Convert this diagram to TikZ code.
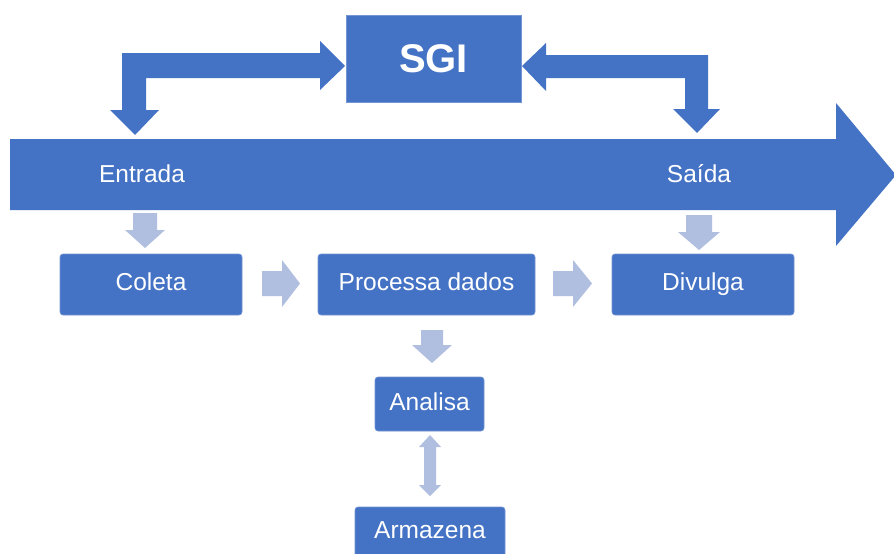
\documentclass[tikz,border=0pt]{standalone}
\usepackage{fontspec}
\setmainfont{Liberation Sans}
\definecolor{mainblue}{HTML}{4472C4}
\definecolor{lightblue}{HTML}{B0BEE0}
\begin{document}
\begin{tikzpicture}[x=1pt,y=-1pt,
  box/.style={fill=mainblue, draw=mainblue!75!white, line width=0.6pt, rounded corners=3pt,
    text=white, font=\fontsize{24.5}{28}\selectfont, inner sep=0pt, text height=17.5pt, text depth=5pt},
  sgibox/.style={fill=mainblue, draw=mainblue!75!white, line width=0.6pt,
    text=white, font=\fontsize{40}{44}\selectfont\bfseries, inner sep=0pt},
  bigarrow/.style={fill=mainblue},
  lightarrow/.style={fill=lightblue},
  bandlabel/.style={text=white, font=\fontsize{24.5}{28}\selectfont, inner sep=0pt, text height=17.5pt, text depth=5pt}]
\clip (0,0) rectangle (894,554);
\fill[white] (0,0) rectangle (894,554);

% big band arrow
\fill[bigarrow] (10,139) -- (836,139) -- (836,103) -- (896,175) -- (836,246) -- (836,210) -- (10,210) -- cycle;
\node[bandlabel] (entrada) at (142,176) {Entrada};
\node[bandlabel] (saida) at (699,176) {Saída};

% SGI box
\node[sgibox, minimum width=175, minimum height=87] (sgi) at (433.5,58.5) {SGI};

% bent double arrows to SGI
\fill[bigarrow] (135,135) -- (159,110) -- (146,110) -- (146,78) -- (320,78) -- (320,90) -- (345,66)
  -- (320,41) -- (320,53) -- (122,53) -- (122,110) -- (110,110) -- cycle;
\fill[bigarrow] (697,133) -- (673,109) -- (685,109) -- (685,78) -- (546,78) -- (546,91) -- (522,66)
  -- (546,43) -- (546,55) -- (708,55) -- (708,109) -- (720,109) -- cycle;

% process boxes
\node[box, minimum width=182, minimum height=61] (coleta) at (151,284.5) {Coleta};
\node[box, minimum width=217, minimum height=61] (processa) at (426.5,284.5) {Processa dados};
\node[box, minimum width=182, minimum height=61] (divulga) at (703,284.5) {Divulga};
\node[box, minimum width=109, minimum height=54] (analisa) at (429.5,404) {Analisa};
\node[box, minimum width=150, minimum height=50] (armazena) at (430,532) {Armazena};

% light arrows
\fill[lightarrow] (133,213) -- (157,213) -- (157,230) -- (165,230) -- (145,248) -- (125,230) -- (133,230) -- cycle;
\fill[lightarrow] (686,215) -- (712,215) -- (712,232) -- (720,232) -- (699,250) -- (678,232) -- (686,232) -- cycle;
\fill[lightarrow] (262,271) -- (282,271) -- (282,260) -- (300,283.5) -- (282,307) -- (282,296) -- (262,296) -- cycle;
\fill[lightarrow] (553,271) -- (573,271) -- (573,260) -- (592,283.5) -- (573,307) -- (573,296) -- (553,296) -- cycle;
\fill[lightarrow] (421,330) -- (443,330) -- (443,345) -- (452,345) -- (432,363) -- (412,345) -- (421,345) -- cycle;
\fill[lightarrow] (430,435) -- (441,447) -- (436,447) -- (436,485) -- (441,485) -- (430,496)
  -- (419,485) -- (424,485) -- (424,447) -- (419,447) -- cycle;
\end{tikzpicture}
\end{document}
